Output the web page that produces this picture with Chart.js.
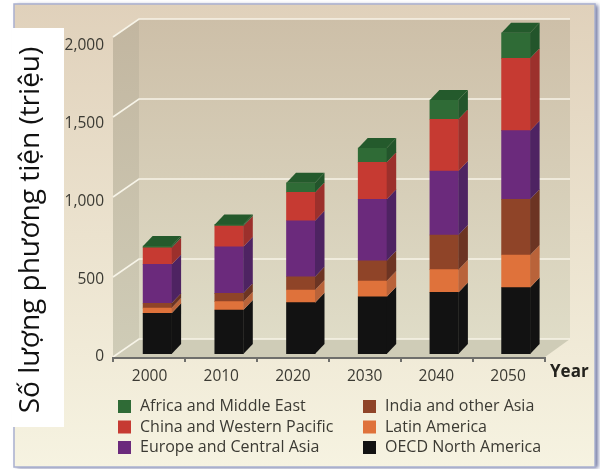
<!DOCTYPE html>
<html>
<head>
<meta charset="utf-8">
<title>Số lượng phương tiện</title>
<style>
  html, body { margin: 0; padding: 0; background: #fff; }
  canvas { display: block; }
</style>
<script src="https://cdn.jsdelivr.net/npm/chart.js@4/dist/chart.umd.min.js"></script>
</head>
<body>
<canvas id="vehicleChart" width="600" height="469"></canvas>
<script>
'use strict';

const years = ['2000', '2010', '2020', '2030', '2040', '2050'];
const yTicks = [0, 500, 1000, 1500, 2000];

// Vehicles per region in millions, bottom of the stack first
const oecdNorthAmerica = [254, 275, 321, 358, 385, 415];
const latinAmerica = [33, 52, 79, 98, 142, 204];
const indiaOtherAsia = [30, 52, 83, 127, 217, 348];
const europeCentralAsia = [243, 291, 350, 384, 400, 429];
const chinaWesternPacific = [104, 130, 177, 231, 323, 452];
const africaMiddleEast = [11, 10, 60, 89, 120, 160];

const FONT = '"Open Sans", "Noto Sans", sans-serif';
const TEXT = '#3b3a33';
const DEPTH_X = 9.5;
const DEPTH_Y = 10;

const series = [
  { label: 'OECD North America', data: oecdNorthAmerica, front: '#121212', side: '#121212' },
  { label: 'Latin America', data: latinAmerica, front: '#df723b', side: '#b9633a' },
  { label: 'India and other Asia', data: indiaOtherAsia, front: '#8f4428', side: '#6c3423' },
  { label: 'Europe and Central Asia', data: europeCentralAsia, front: '#6b2a7c', side: '#4e2362' },
  { label: 'China and Western Pacific', data: chinaWesternPacific, front: '#c63a32', side: '#9c302c' },
  { label: 'Africa and Middle East', data: africaMiddleEast, front: '#2f6b36', side: '#23552b' }
];

// Legend reads column by column, top of the stack first
const legendOrder = [5, 4, 3, 2, 1, 0];

function verticalGradient(ctx, y0, y1, c0, c1) {
  const g = ctx.createLinearGradient(0, y0, 0, y1);
  g.addColorStop(0, c0);
  g.addColorStop(1, c1);
  return g;
}

function poly(ctx, pts, fill) {
  ctx.fillStyle = fill;
  ctx.beginPath();
  pts.forEach((p, i) => (i ? ctx.lineTo(p[0], p[1]) : ctx.moveTo(p[0], p[1])));
  ctx.closePath();
  ctx.fill();
}

const stagePlugin = {
  id: 'stage',

  // Panel with its soft shadow, under the axis labels
  beforeDraw(chart) {
    const { ctx } = chart;
    ctx.save();
    ctx.shadowColor = 'rgba(50,60,120,0.7)';
    ctx.shadowBlur = 4;
    ctx.shadowOffsetX = 3;
    ctx.shadowOffsetY = 1;
    ctx.fillStyle = verticalGradient(ctx, 4, 467, '#e0d1bb', '#f6f3e1');
    ctx.fillRect(14, 4, 581, 463);
    ctx.restore();

    ctx.save();
    ctx.strokeStyle = '#a9b0cf';
    ctx.lineWidth = 1.5;
    ctx.strokeRect(14, 4, 581, 463);
    ctx.restore();
  },

  // Back wall, side wall, floor, grid lines and the axis rail
  beforeDatasetsDraw(chart) {
    const { ctx, scales } = chart;
    const y = scales.y;
    const wallTop = y.getPixelForValue(2000) - 15;
    const wallBottom = y.getPixelForValue(0) - 15;
    const railY = y.getPixelForValue(0) + 3;
    const railLeft = 113, railRight = 545, wallLeft = 139, wallRight = 570;

    ctx.save();
    ctx.fillStyle = verticalGradient(ctx, wallTop, wallBottom, '#cdbfa8', '#dfdcc7');
    ctx.fillRect(wallLeft, wallTop, wallRight - wallLeft, wallBottom - wallTop);
    poly(ctx, [[railLeft, wallTop + 18], [wallLeft, wallTop], [wallLeft, wallBottom], [railLeft, railY]],
      verticalGradient(ctx, wallTop, railY, '#c2b6a0', '#cfccb7'));
    poly(ctx, [[railLeft, railY], [wallLeft, wallBottom], [wallRight, wallBottom], [railRight, railY]], '#cfccb7');

    ctx.strokeStyle = '#f7f4e8';
    ctx.lineWidth = 1.6;
    yTicks.forEach(v => {
      const py = y.getPixelForValue(v);
      ctx.beginPath();
      ctx.moveTo(railLeft, py + 3);
      ctx.lineTo(wallLeft, py - 15);
      ctx.lineTo(wallRight, py - 15);
      ctx.stroke();
    });

    ctx.strokeStyle = '#6f6f6c';
    ctx.lineWidth = 2;
    ctx.beginPath();
    ctx.moveTo(railLeft - 1, railY + 1);
    ctx.lineTo(railRight + 1, railY + 1);
    ctx.stroke();
    for (let i = 0; i <= years.length; i++) {
      const tx = railLeft + i * (railRight - railLeft) / years.length;
      ctx.beginPath();
      ctx.moveTo(tx, railY + 1);
      ctx.lineTo(tx, railY + 5);
      ctx.stroke();
    }
    ctx.restore();
  },

  // Side and top faces that give the stacked bars their depth
  afterDatasetsDraw(chart) {
    const { ctx } = chart;
    ctx.save();
    series.forEach((s, di) => {
      chart.getDatasetMeta(di).data.forEach(bar => {
        const right = bar.x + bar.width / 2;
        const left = bar.x - bar.width / 2;
        poly(ctx, [
          [right, bar.base],
          [right + DEPTH_X, bar.base - DEPTH_Y],
          [right + DEPTH_X, bar.y - DEPTH_Y],
          [right, bar.y]
        ], s.side);
        if (di === series.length - 1) {
          poly(ctx, [
            [left, bar.y],
            [left + DEPTH_X, bar.y - DEPTH_Y],
            [right + DEPTH_X, bar.y - DEPTH_Y],
            [right, bar.y]
          ], '#245a2c');
        }
      });
    });
    ctx.restore();
  },

  afterDraw(chart) {
    const { ctx } = chart;
    ctx.save();

    // Legend, two columns of three
    ctx.textBaseline = 'middle';
    ctx.textAlign = 'left';
    ctx.font = '16px ' + FONT;
    const colX = [118, 363];
    const rowY = [406.5, 427, 447.5];
    legendOrder.forEach((si, i) => {
      const x = colX[Math.floor(i / 3)];
      const yy = rowY[i % 3];
      ctx.fillStyle = series[si].front;
      ctx.fillRect(x, yy - 6.5, 13, 13);
      ctx.fillStyle = TEXT;
      ctx.fillText(series[si].label, x + 22, yy);
    });

    ctx.fillStyle = '#23221d';
    ctx.font = 'bold 17px ' + FONT;
    ctx.fillText('Year', 550, 372);

    // White label block over the left edge of the panel
    ctx.fillStyle = '#fff';
    ctx.fillRect(12, 28, 52, 399);
    ctx.translate(31, 230);
    ctx.rotate(-Math.PI / 2);
    ctx.textAlign = 'center';
    ctx.fillStyle = '#111';
    ctx.font = '28px ' + FONT;
    ctx.fillText('Số lượng phương tiện (triệu)', 0, 0);
    ctx.restore();
  }
};

new Chart(document.getElementById('vehicleChart'), {
  type: 'bar',
  data: {
    labels: years,
    datasets: series.map(s => ({
      label: s.label,
      data: s.data,
      backgroundColor: s.front,
      borderWidth: 0,
      barThickness: 28.5,
      yAxisID: 'y',
      xAxisID: 'x'
    }))
  },
  plugins: [stagePlugin],
  options: {
    responsive: false,
    animation: false,
    layout: { padding: { top: 18, right: 48.3, left: 0, bottom: 0 } },
    plugins: { legend: { display: false }, tooltip: { enabled: false } },
    scales: {
      x: {
        stacked: true,
        afterFit(scale) { scale.height = 115; },
        grid: { display: false },
        border: { display: false },
        ticks: {
          color: TEXT,
          font: { family: FONT, size: 15.5 },
          padding: 5,
          labelOffset: -7.8,
          maxRotation: 0,
          autoSkip: false
        }
      },
      y: {
        stacked: true,
        display: false,
        min: 0,
        max: 2100
      },
      // Printed tick labels sit on their own slightly tighter spacing
      yLabels: {
        position: 'left',
        min: 0,
        max: 2160,
        afterFit(scale) {
          scale.width = 121.5;
          scale.paddingTop = 0;
          scale.paddingBottom = 0;
        },
        afterBuildTicks(scale) { scale.ticks = yTicks.map(value => ({ value })); },
        grid: { display: false, drawTicks: false },
        border: { display: false },
        ticks: {
          color: TEXT,
          font: { family: FONT, size: 15.5 },
          padding: 17.5,
          labelOffset: 3,
          autoSkip: false,
          callback: v => v.toLocaleString('en-US')
        }
      }
    }
  }
});
</script>
</body>
</html>
